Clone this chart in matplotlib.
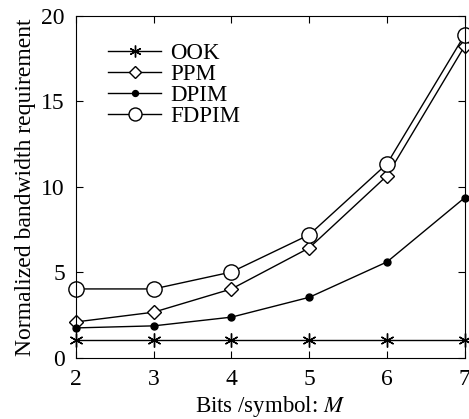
import numpy as np
import matplotlib
matplotlib.use('Agg')
import matplotlib.pyplot as plt

plt.rcParams['font.family'] = ['Liberation Serif', 'DejaVu Serif']
plt.rcParams['mathtext.fontset'] = 'stix'

# data
bits = [2, 3, 4, 5, 6, 7]
ook = [1.07, 1.07, 1.07, 1.07, 1.07, 1.07]
ppm = [2.1, 2.67, 4.03, 6.43, 10.65, 18.25]
dpim = [1.75, 1.87, 2.38, 3.54, 5.61, 9.37]
fdpim = [4.03, 4.03, 5.02, 7.2, 11.35, 18.9]

fig = plt.figure(figsize=(4.69, 4.19), dpi=100)
ax = fig.add_axes([0.162, 0.146, 0.829, 0.816])

# thin six-armed asterisk like the original
ax.plot(bits, ook, color='black', lw=1, marker=(6, 2, 0), ms=10, mew=1, label='OOK', clip_on=False)
ax.plot(bits, ppm, color='black', lw=1, marker='D', ms=7.5, mfc='white', label='PPM', clip_on=False)
ax.plot(bits, dpim, color='black', lw=1, marker='o', ms=5, mfc='black', label='DPIM', clip_on=False)
ax.plot(bits, fdpim, color='black', lw=1, marker='o', ms=11, mfc='white', label='FDPIM', clip_on=False)

ax.set_xlim(2, 7)
ax.set_ylim(0, 20)
ax.set_xticks(bits)
ax.set_yticks([0, 5, 10, 15, 20])
ax.tick_params(direction='in', top=True, right=True, labelsize=17, length=5, pad=8)
ax.set_xlabel('Bits /symbol: $M$', fontsize=16.5, labelpad=3)
ax.set_ylabel('Normalized bandwidth requirement', fontsize=17, labelpad=4)

ax.legend(loc='upper left', bbox_to_anchor=(0.06, 0.948), frameon=False, fontsize=16.5,
          handlelength=2.3, handletextpad=0.4, labelspacing=0.0, borderaxespad=0,
          markerscale=0.85)

fig.savefig('out.png', dpi=100)
